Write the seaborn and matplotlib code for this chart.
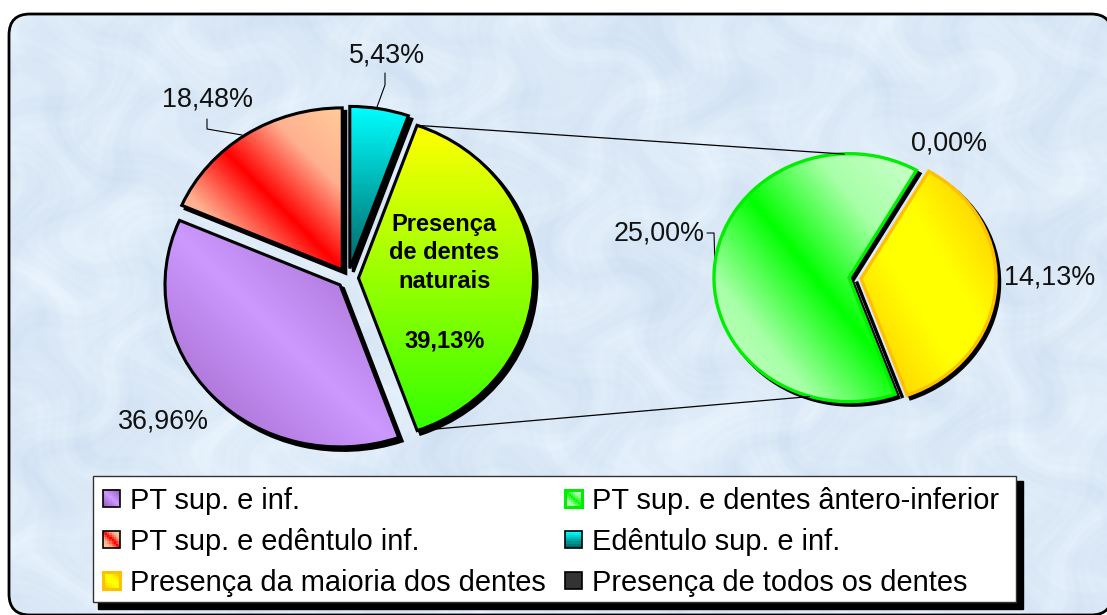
import numpy as np
import seaborn as sns
import matplotlib.pyplot as plt
from matplotlib.colors import to_rgb
from matplotlib.legend_handler import HandlerBase
from matplotlib.patches import ConnectionPatch, FancyBboxPatch, Patch, Rectangle

W, H = 1107, 615

# dados do grafico
main_labels = ['Edêntulo sup. e inf.', 'Presença de dentes naturais', 'PT sup. e inf.', 'PT sup. e edêntulo inf.']
main_values = [5.43, 39.13, 36.96, 18.48]
detail_labels = ['Presença da maioria dos dentes', 'Presença de todos os dentes', 'PT sup. e dentes ântero-inferior']
detail_values = [14.13, 0.00, 25.00]
legend_labels = ['PT sup. e inf.', 'PT sup. e edêntulo inf.', 'Presença da maioria dos dentes',
                 'PT sup. e dentes ântero-inferior', 'Edêntulo sup. e inf.', 'Presença de todos os dentes']

sns.set_theme(style='white')
plt.rcParams['font.family'] = ['Liberation Sans', 'DejaVu Sans']

# gradientes: cores e direcao (dx, dy)
grads = {
    'PT sup. e inf.': (['#9C60C0', '#CC99FF', '#9C60C0'], (1, 1)),
    'PT sup. e edêntulo inf.': (['#FFCC99', '#FFB090', '#FF0000', '#FFB090', '#FFCC99'], (1, 1)),
    'Edêntulo sup. e inf.': (['#00FFFF', '#006666'], (0, -1)),
    'Presença de dentes naturais': (['#FFFF00', '#33FF00'], (0, -1)),
    'Presença da maioria dos dentes': (['#FFB800', '#FFE000', '#FFFF00', '#FFFF00', '#FFE000', '#FFB800'], (1, 1)),
    'PT sup. e dentes ântero-inferior': (['#CCFFCC', '#A8FFA8', '#00FF00', '#A8FFA8', '#CCFFCC'], (1, 1)),
    'Presença de todos os dentes': (['#333333', '#333333'], (1, 1)),
}
edges = {
    'Presença da maioria dos dentes': '#FFC000',
    'PT sup. e dentes ântero-inferior': '#00EE00',
    'Presença de todos os dentes': 'black',
}


def make_cmap(name):
    return sns.blend_palette(grads[name][0], as_cmap=True)


def grad_field(name, n=200):
    dx, dy = grads[name][1]
    x, y = np.meshgrid(np.linspace(0, 1, n), np.linspace(1, 0, n))
    if dx == 0:
        return 1 - y if dy < 0 else y
    return (x + y) / 2


def px_axes(fig, cx, cy, rx, ry):
    # eixo em que a pizza de raio 1 vira uma elipse rx x ry em pixels
    return fig.add_axes([(cx - 1.25 * rx) / W, 1 - (cy + 1.25 * ry) / H, 2.5 * rx / W, 2.5 * ry / H])


def draw_pie(ax, values, names, start, explode, rx, ry, lw):
    ax.pie(values, startangle=start, counterclock=False, explode=explode,
           center=(3.5 / rx, -3.5 / ry), colors=['black'] * len(values),
           wedgeprops=dict(edgecolor='black', linewidth=lw))
    fills, _ = ax.pie(values, startangle=start, counterclock=False, explode=explode,
                      colors=['none'] * len(values), wedgeprops=dict(linewidth=0))
    outline, _ = ax.pie(values, startangle=start, counterclock=False, explode=explode,
                        colors=['none'] * len(values),
                        wedgeprops=dict(edgecolor='black', linewidth=lw))
    for w, o, name in zip(fills, outline, names):
        o.set_edgecolor(edges.get(name, 'black'))
        o.set_zorder(5)
        if abs(w.theta2 - w.theta1) < 0.01:
            o.set_visible(False)
            continue
        verts = w.get_path().vertices
        x0, y0 = verts.min(axis=0)
        x1, y1 = verts.max(axis=0)
        im = ax.imshow(grad_field(name), extent=[x0, x1, y0, y1], cmap=make_cmap(name),
                       vmin=0, vmax=1, aspect='auto', zorder=3, origin='upper')
        im.set_clip_path(w)
    ax.set_aspect('auto')
    ax.set_xlim(-1.25, 1.25)
    ax.set_ylim(-1.25, 1.25)
    return outline


fig = plt.figure(figsize=(W / 100, H / 100), dpi=100)
fig.patch.set_facecolor('white')

# fundo texturizado
bg = fig.add_axes([0, 0, 1, 1])
bg.set_xlim(0, W)
bg.set_ylim(H, 0)
bg.axis('off')
xx, yy = np.meshgrid(np.arange(W), np.arange(H))
warp_x = xx + 22 * np.sin(yy / 17) + 14 * np.sin(yy / 41 + xx / 29)
warp_y = yy + 22 * np.sin(xx / 19) + 14 * np.cos(xx / 37 - yy / 23)
tex = (np.sin(warp_x / 27) * np.sin(warp_y / 21) + 0.7 * np.sin(warp_x / 11 + 1.1) * np.sin(warp_y / 13 + 0.4)
       + 0.5 * np.sin(warp_x / 61) * np.cos(warp_y / 47) + 0.35 * np.sin(warp_x / 3.3) * np.sin(warp_y / 4.1))
tex = (tex - tex.min()) / (tex.max() - tex.min())
c0, c1 = np.array(to_rgb('#D0E0F2')), np.array(to_rgb('#E9F4FD'))
img = c0 + (c1 - c0) * tex[..., None]
# face quase transparente: sem ela o Agg corta as curvas fora da tela
frame = FancyBboxPatch((9, 14), 1103, 601, boxstyle='round,pad=0,rounding_size=21',
                       facecolor=(1, 1, 1, 0.004), edgecolor='black', linewidth=2, zorder=4)
bg.add_patch(frame)
im = bg.imshow(img, extent=[0, W, H, 0], aspect='auto', zorder=1)
im.set_clip_path(frame)
bg.set_xlim(0, W)
bg.set_ylim(H, 0)

# pizza principal e pizza de detalhe
ax1 = px_axes(fig, 348, 278, 175, 162)
ax2 = px_axes(fig, 853, 278, 135, 124)
for a in (ax1, ax2):
    a.patch.set_alpha(0)
wedges1 = draw_pie(ax1, main_values, main_labels, 90, [0.06, 0.06, 0.0625, 0.06], 175, 162, 2.2)
wedges2 = draw_pie(ax2, detail_values, detail_labels, 60, [0.06, 0, 0.03], 135, 124, 2.4)

# linhas de ligacao entre as pizzas
yellow = wedges1[1]
for ang1, ang2 in [(yellow.theta2, 92), (yellow.theta1, 253)]:
    xy1 = (np.cos(np.radians(ang1)) + yellow.center[0], np.sin(np.radians(ang1)) + yellow.center[1])
    xy2 = (np.cos(np.radians(ang2)) - 0.03, np.sin(np.radians(ang2)))
    fig.add_artist(ConnectionPatch(xy1, xy2, 'data', 'data', axesA=ax1, axesB=ax2, color='black', lw=0.9))

# rotulos
label_size = 19.4
for txt, x, y in [('5,43%', 387, 55), ('18,48%', 208, 100), ('36,96%', 163, 422),
                  ('0,00%', 949, 143), ('25,00%', 659, 233), ('14,13%', 1050, 277)]:
    bg.text(x, y, txt, ha='center', va='center', fontsize=label_size, color='#111111', zorder=6)
for xs, ys in [([385, 385, 377], [73, 85, 107]), ([207, 207, 242], [119, 129, 135]), ([707, 714, 715], [233, 233, 267])]:
    bg.plot(xs, ys, color='black', lw=0.8, zorder=6)
ax1.text(0.55, 0.155, 'Presença\nde dentes\nnaturais', ha='center', va='center',
         fontsize=17, fontweight='bold', color='black', zorder=7, linespacing=1.32)
ax1.text(0.55, -0.39, '39,13%', ha='center', va='center', fontsize=17, fontweight='bold', color='black', zorder=7)

# caixa da legenda com sombra
bg.add_patch(Rectangle((98, 481), 925, 128, facecolor='black', edgecolor='black', zorder=7))
bg.add_patch(Rectangle((93, 476), 923, 126, facecolor='white', edgecolor='#333333', linewidth=1, zorder=8))


class GradHandler(HandlerBase):
    def __init__(self, name):
        super().__init__()
        self.name = name

    def create_artists(self, legend, orig_handle, xdescent, ydescent, width, height, fontsize, trans):
        size = 12.4
        x0 = -xdescent
        y0 = (height - size) / 2 - ydescent + 0.5
        n = 8
        field = grad_field(self.name, n)
        cmap = make_cmap(self.name)
        arts = []
        for i in range(n):
            for j in range(n):
                arts.append(Rectangle((x0 + j * size / n, y0 + (n - 1 - i) * size / n), size / n + 0.1, size / n + 0.1,
                                      facecolor=cmap(field[i, j]), edgecolor='none', transform=trans))
        edge = edges.get(self.name, 'black')
        arts.append(Rectangle((x0, y0), size, size, facecolor='none', edgecolor=edge,
                              linewidth=1.2 if edge == 'black' else 2.2, transform=trans))
        return arts


handles = [Patch(label=n) for n in legend_labels]
leg = fig.legend(handles, legend_labels, ncol=2, loc='upper left', bbox_to_anchor=(103 / W, 1 - 487 / H),
                 bbox_transform=fig.transFigure, fontsize=20.9, frameon=False, borderaxespad=0, borderpad=0,
                 labelcolor='black', handlelength=0.62, handletextpad=0.31, columnspacing=0.65, labelspacing=0.455,
                 handler_map={h: GradHandler(h.get_label()) for h in handles})
leg.set_zorder(10)

fig.savefig('out.png', dpi=100)
